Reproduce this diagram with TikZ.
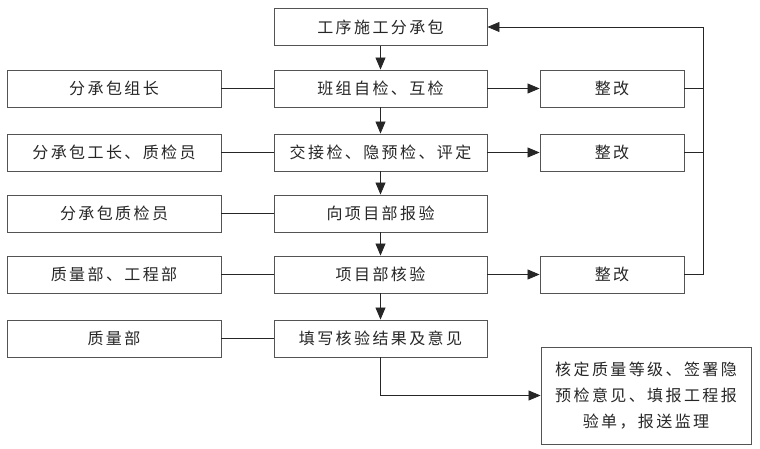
\documentclass[tikz,border=0pt]{standalone}
\usepackage{fontspec}
\newfontfamily\cjk[LetterSpace=15]{Noto Sans CJK SC}
\usetikzlibrary{arrows.meta}
\definecolor{boxline}{rgb}{0.33,0.33,0.33}
\definecolor{txt}{rgb}{0.15,0.15,0.15}
\tikzset{
  box/.style={draw=boxline, line width=0.9pt, rectangle, inner sep=0pt, minimum height=37pt,
    font=\cjk\fontsize{16}{26}\selectfont, text=txt},
  cbox/.style={box, minimum width=213pt},
  lbox/.style={box, minimum width=214pt},
  rbox/.style={box, minimum width=144pt},
  link/.style={draw=black!85, line width=0.8pt},
  arr/.style={link, -{Triangle[length=12pt,width=10pt]}}
}
\begin{document}
\begin{tikzpicture}[x=1pt,y=-1pt]
\useasboundingbox (0,0) rectangle (760,449);
% centre column
\node[cbox] (c1) at (380.5,27) {工序施工分承包};
\node[cbox] (c2) at (380.5,88.5) {班组自检、互检};
\node[cbox] (c3) at (380.5,152.5) {交接检、隐预检、评定};
\node[cbox] (c4) at (380.5,213.5) {向项目部报验};
\node[cbox] (c5) at (380.5,274.5) {项目部核验};
\node[cbox] (c6) at (380.5,338.5) {填写核验结果及意见};
% left column
\node[lbox] (l2) at (114,88.5) {分承包组长};
\node[lbox] (l3) at (114,152.5) {分承包工长、质检员};
\node[lbox] (l4) at (114,213.5) {分承包质检员};
\node[lbox] (l5) at (114,274.5) {质量部、工程部};
\node[lbox] (l6) at (114,338.5) {质量部};
% right column
\node[rbox] (r2) at (612,88.5) {整改};
\node[rbox] (r3) at (612,152.5) {整改};
\node[rbox] (r5) at (612,274.5) {整改};
\node[box, minimum width=210pt, minimum height=97pt, align=center] (f) at (646,395.5)
  {核定质量等级、签署隐\\预检意见、填报工程报\\验单，报送监理};
\coordinate (lt) at (703,27);
% vertical arrows
\draw[arr] (c1) -- (c2);
\draw[arr] (c2) -- (c3);
\draw[arr] (c3) -- (c4);
\draw[arr] (c4) -- (c5);
\draw[arr] (c5) -- (c6);
\draw[arr] (c6.south) |- (f.west);
% left links
\foreach \i in {2,...,6} { \draw[link] (l\i) -- (c\i); }
% to rectify
\draw[arr] (c2) -- (r2);
\draw[arr] (c3) -- (r3);
\draw[arr] (c5) -- (r5);
% loop back
\draw[link] (r2.east) -- (r2.east -| lt);
\draw[link] (r3.east) -- (r3.east -| lt);
\draw[arr] (r5.east) -| (lt) -- (c1.east);
\end{tikzpicture}
\end{document}
